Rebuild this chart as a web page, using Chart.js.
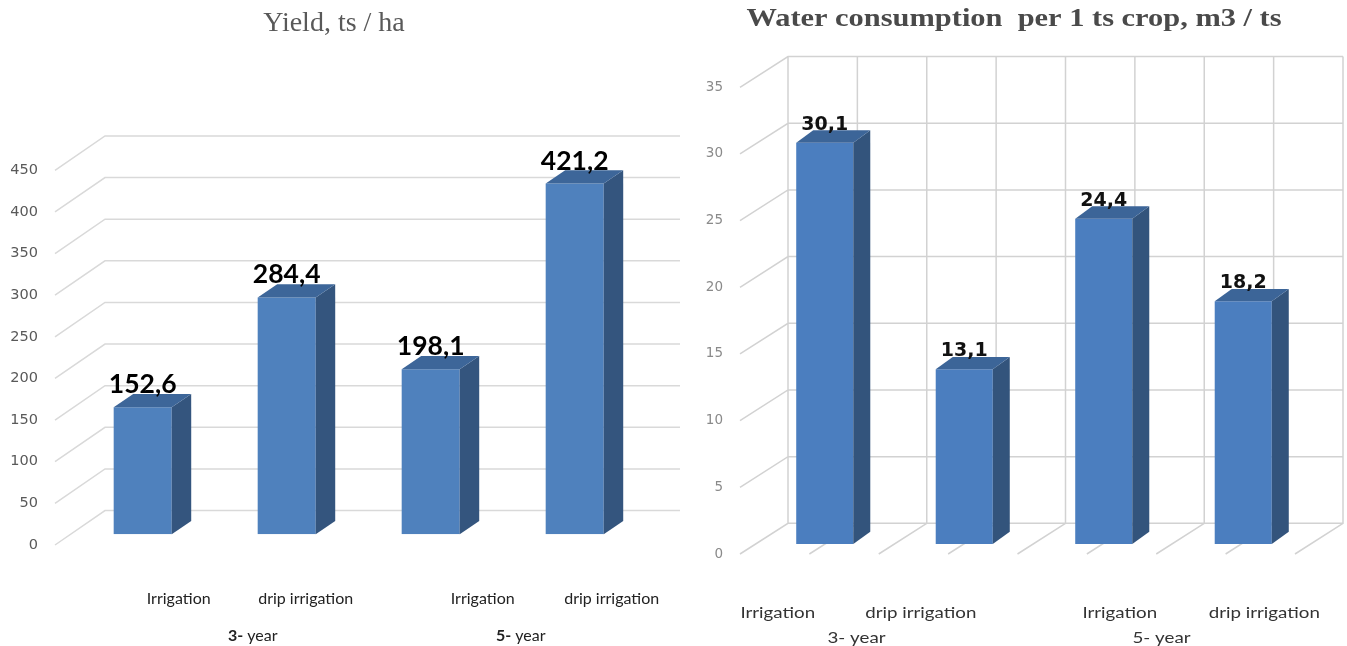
<!DOCTYPE html>
<html>
<head>
<meta charset="utf-8">
<script src="https://cdn.jsdelivr.net/npm/chart.js@4.4.1/dist/chart.umd.min.js"></script>
<style>
  html, body { margin: 0; padding: 0; background: #fff; overflow: hidden; }
  #wrap { position: relative; width: 1347px; height: 646px; }
  #yield { position: absolute; left: 0; top: 0; }
  #water { position: absolute; left: 680px; top: 0; filter: blur(0.45px); }
</style>
</head>
<body>
<div id="wrap">
  <canvas id="yield" width="680" height="646"></canvas>
  <canvas id="water" width="667" height="646"></canvas>
</div>
<script>
// Categories: two irrigation methods for each of the two plantation ages
const categories = ['Irrigation', 'drip irrigation', 'Irrigation', 'drip irrigation'];
const groupYears = ['3', '5'];

// Yield, ts / ha
const yieldValues = [152.6, 284.4, 198.1, 421.2];
const yieldTicks = [0, 50, 100, 150, 200, 250, 300, 350, 400, 450];

// Water consumption per 1 ts of crop, m3 / ts
const waterValues = [30.1, 13.1, 24.4, 18.2];
const waterTicks = [0, 5, 10, 15, 20, 25, 30, 35];

const fmt = v => v.toFixed(1).replace('.', ',');

function textAt(ctx, str, x, y, font, color, align, base, sx) {
  ctx.save();
  ctx.font = font;
  ctx.fillStyle = color;
  ctx.textAlign = align || 'center';
  ctx.textBaseline = base || 'alphabetic';
  ctx.translate(x, y);
  ctx.scale(sx || 1, 1);
  ctx.fillText(str, 0, 0);
  ctx.restore();
}

// Pseudo-3D column chart: walls, gridlines, box sides and all labels
const box3d = {
  id: 'box3d',
  beforeDatasetsDraw(chart, _args, o) {
    const ctx = chart.ctx;
    const ys = chart.scales.y;
    const yb = v => ys.getPixelForValue(v);
    const top = o.ticks[o.ticks.length - 1];
    ctx.save();
    ctx.strokeStyle = o.gridColor;
    ctx.lineWidth = o.gridWidth;
    ctx.beginPath();
    for (const v of o.ticks) {
      const yf = yb(v) + o.frontOffset;
      const yk = yb(v) + o.backOffset;
      ctx.moveTo(o.frontX, yf);
      ctx.lineTo(o.backX, yk);
      ctx.lineTo(o.wallRight, yk);
    }
    if (o.columns) {
      const yt = yb(top) + o.backOffset;
      const yk0 = yb(0) + o.backOffset;
      const yf0 = yb(0) + o.frontOffset;
      for (let k = 0; k <= o.columns; k++) {
        const x = o.backX + k * (o.wallRight - o.backX) / o.columns;
        ctx.moveTo(x, yt);
        ctx.lineTo(x, yk0);
        ctx.lineTo(x - (o.backX - o.frontX), yf0);
      }
    }
    ctx.stroke();
    ctx.restore();
    for (const v of o.ticks) {
      textAt(ctx, String(v), o.tickRight, yb(v) + o.frontOffset, o.tickFont, o.tickColor, 'right', 'middle');
    }
  },
  afterDatasetsDraw(chart, _args, o) {
    const ctx = chart.ctx;
    const meta = chart.getDatasetMeta(0);
    const values = chart.data.datasets[0].data;
    const dx = o.depthX, dy = o.depthY;
    const sx = o.catStretch || 1;
    const centers = [];
    meta.data.forEach((bar, i) => {
      const p = bar.getProps(['x', 'y', 'base', 'width'], true);
      const l = p.x - p.width / 2, r = p.x + p.width / 2;
      centers.push(p.x);
      ctx.save();
      ctx.fillStyle = o.sideColor;
      ctx.beginPath();
      ctx.moveTo(r, p.y); ctx.lineTo(r + dx, p.y - dy);
      ctx.lineTo(r + dx, p.base - dy); ctx.lineTo(r, p.base);
      ctx.closePath(); ctx.fill();
      ctx.fillStyle = o.topColor;
      ctx.beginPath();
      ctx.moveTo(l, p.y); ctx.lineTo(l + dx, p.y - dy);
      ctx.lineTo(r + dx, p.y - dy); ctx.lineTo(r, p.y);
      ctx.closePath(); ctx.fill();
      ctx.restore();
      textAt(ctx, fmt(values[i]), p.x, p.y - o.valueGap, o.valueFont, o.valueColor, 'center', 'alphabetic', o.valueStretch);
      textAt(ctx, chart.data.labels[i], p.x + o.catShift[i], o.catY, o.catFont, o.catColor, 'center', 'middle', sx);
    });
    // age group labels under each pair of columns
    groupYears.forEach((g, j) => {
      const cx = (centers[2 * j] + centers[2 * j + 1]) / 2 + o.groupShift[j];
      const a = g + '-', b = ' year';
      ctx.save();
      ctx.font = o.groupBoldFont; const wa = ctx.measureText(a).width * sx;
      ctx.font = o.catFont; const wb = ctx.measureText(b).width * sx;
      ctx.restore();
      const x0 = cx - (wa + wb) / 2;
      textAt(ctx, a, x0, o.groupY, o.groupBoldFont, o.catColor, 'left', 'middle', sx);
      textAt(ctx, b, x0 + wa, o.groupY, o.catFont, o.catColor, 'left', 'middle', sx);
    });
    textAt(ctx, o.title, o.titleX, o.titleY, o.titleFont, o.titleColor, 'center', 'alphabetic', o.titleStretch);
  }
};

function columnChart(id, values, yMax, padding, barPct, colors, deco) {
  return new Chart(document.getElementById(id), {
    type: 'bar',
    data: {
      labels: categories,
      datasets: [{
        data: values,
        backgroundColor: colors.front,
        borderWidth: 0,
        barPercentage: barPct,
        categoryPercentage: 1
      }]
    },
    options: {
      responsive: false,
      animation: false,
      devicePixelRatio: 1,
      layout: { padding },
      scales: {
        x: { display: false },
        y: { display: false, min: 0, max: yMax }
      },
      plugins: {
        legend: { display: false },
        tooltip: { enabled: false },
        title: { display: false },
        box3d: Object.assign({ sideColor: colors.side, topColor: colors.top }, deco)
      }
    },
    plugins: [box3d]
  });
}

columnChart('yield', yieldValues, 450,
  { left: 70.7, right: 33.3, top: 159.6, bottom: 111.7 }, 0.403,
  { front: '#4f81bd', side: '#34557e', top: '#3d6699' },
  {
    ticks: yieldTicks,
    frontOffset: 10.7, backOffset: -23.7, frontX: 55, backX: 105, wallRight: 680, columns: 0,
    gridColor: '#d9d9d9', gridWidth: 1.5,
    tickRight: 38, tickFont: '14.5px "DejaVu Sans"', tickColor: '#595959',
    depthX: 19.5, depthY: 13.3,
    valueGap: 14, valueFont: 'bold 26.5px Lato', valueColor: '#000',
    catShift: [36, 19, 52, 37], catY: 599, catFont: '16px Lato', catColor: '#222', catStretch: 1,
    groupShift: [38, 18], groupY: 636, groupBoldFont: 'bold 16px Lato',
    title: 'Yield, ts / ha', titleX: 334, titleY: 31,
    titleFont: '28px "Liberation Serif"', titleColor: '#595959', titleStretch: 1
  });

columnChart('water', waterValues, 35,
  { left: 75, right: 34, top: 77.3, bottom: 102 }, 0.409,
  { front: '#4b7ebf', side: '#33547c', top: '#3c6598' },
  {
    ticks: waterTicks,
    frontOffset: 10, backOffset: -20.7, frontX: 60, backX: 108, wallRight: 663, columns: 8,
    gridColor: '#d2d2d2', gridWidth: 1.5,
    tickRight: 43, tickFont: '13.5px "DejaVu Sans"', tickColor: '#8a8a8a',
    depthX: 17, depthY: 12.3,
    valueGap: 13, valueFont: 'bold 19px "DejaVu Sans"', valueColor: '#111', valueStretch: 1,
    catShift: [-47, -43.5, 16, 21], catY: 613, catFont: '16px Lato', catColor: '#333', catStretch: 1.17,
    groupShift: [-38, -12], groupY: 638, groupBoldFont: '16px Lato',
    title: 'Water consumption  per 1 ts crop, m3 / ts', titleX: 334, titleY: 26,
    titleFont: 'bold 26px "Liberation Serif"', titleColor: '#4a4a4a', titleStretch: 1.17
  });
</script>
</body>
</html>
